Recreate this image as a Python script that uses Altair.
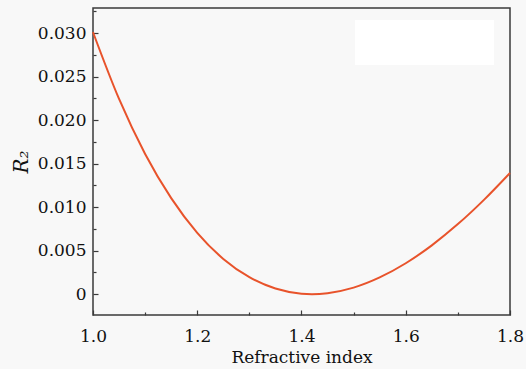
import altair as alt
import pandas as pd

# Reflectance R2 versus refractive index
refractive_index = [1.00, 1.05, 1.10, 1.15, 1.20, 1.25, 1.30, 1.35, 1.40, 1.42,
                    1.45, 1.50, 1.55, 1.60, 1.65, 1.70, 1.75, 1.80]
r2_values = [0.03012, 0.02244, 0.01612, 0.01104, 0.00705, 0.00405, 0.00195, 0.00064,
             0.00005, 0.0, 0.00011, 0.00075, 0.00192, 0.00355, 0.00561, 0.00805,
             0.01084, 0.01393]

x_major = [1.0, 1.2, 1.4, 1.6, 1.8]
x_minor = [1.1, 1.3, 1.5, 1.7]
y_major = [0.0, 0.005, 0.010, 0.015, 0.020, 0.025, 0.030]
y_minor = [0.0025, 0.0075, 0.0125, 0.0175, 0.0225, 0.0275, 0.0325]

df = pd.DataFrame({"n": refractive_index, "r2": r2_values})

FONT = "DejaVu Serif"
INK = "#3a3a3a"
TEXT = "#111111"
W, H = 417, 307

x_scale = alt.Scale(domain=[1.0, 1.8], nice=False, zero=False)
y_scale = alt.Scale(domain=[-0.0024, 0.0329], nice=False, zero=False)

base = alt.Chart(df)

curve = base.mark_line(color="#e8532b", strokeWidth=2, interpolate="monotone").encode(
    x=alt.X("n:Q", scale=x_scale,
            axis=alt.Axis(orient="bottom", values=x_major, format=".1f", domain=False,
                          grid=False, tickSize=5, offset=-5, tickColor=INK, tickWidth=1.2,
                          labelFlush=False, labelPadding=13, labelFont=FONT, labelFontSize=17,
                          labelColor=TEXT,
                          title="Refractive index", titleFont=FONT, titleFontSize=17,
                          titleFontWeight="normal", titleColor=TEXT, titlePadding=5)),
    y=alt.Y("r2:Q", scale=y_scale,
            axis=alt.Axis(orient="left", values=y_major, domain=False, grid=False,
                          labelExpr="datum.value == 0 ? '0' : format(datum.value, '.3f')",
                          tickSize=5, offset=-5, tickColor=INK, tickWidth=1.2,
                          labelFlush=False, labelPadding=7, labelFont=FONT, labelFontSize=17,
                          labelColor=TEXT,
                          title="R₂", titleFont=FONT, titleFontSize=20, titleFontStyle="italic",
                          titleFontWeight="normal", titleColor=TEXT, titlePadding=6)),
)

# Second layer carries the minor ticks only
minor = base.mark_line(opacity=0).encode(
    x=alt.X("n:Q", scale=x_scale,
            axis=alt.Axis(orient="bottom", values=x_minor, labels=False, domain=False,
                          grid=False, tickSize=3, offset=-3, tickColor=INK, tickWidth=1.2,
                          title=None)),
    y=alt.Y("r2:Q", scale=y_scale,
            axis=alt.Axis(orient="left", values=y_minor, labels=False, domain=False,
                          grid=False, tickSize=3, offset=-3, tickColor=INK, tickWidth=1.2,
                          title=None)),
)

# Blank white panel in the upper right of the plot area
panel = alt.Chart(pd.DataFrame({"k": [0]})).mark_rect(color="white").encode(
    x=alt.value(262), x2=alt.value(401), y=alt.value(12), y2=alt.value(57)
)

chart = (
    alt.layer(panel, minor, curve)
    .resolve_axis(x="independent", y="independent")
    .properties(width=W, height=H,
                autosize=alt.AutoSizeParams(type="none"),
                padding={"left": 93, "top": 8, "right": 16, "bottom": 54})
    .configure(background="#f8f8f8")
    .configure_view(stroke=INK, strokeWidth=1.5, fill="#f8f8f8")
)

chart.save("out.html", embed_options={"renderer": "svg", "actions": False})
